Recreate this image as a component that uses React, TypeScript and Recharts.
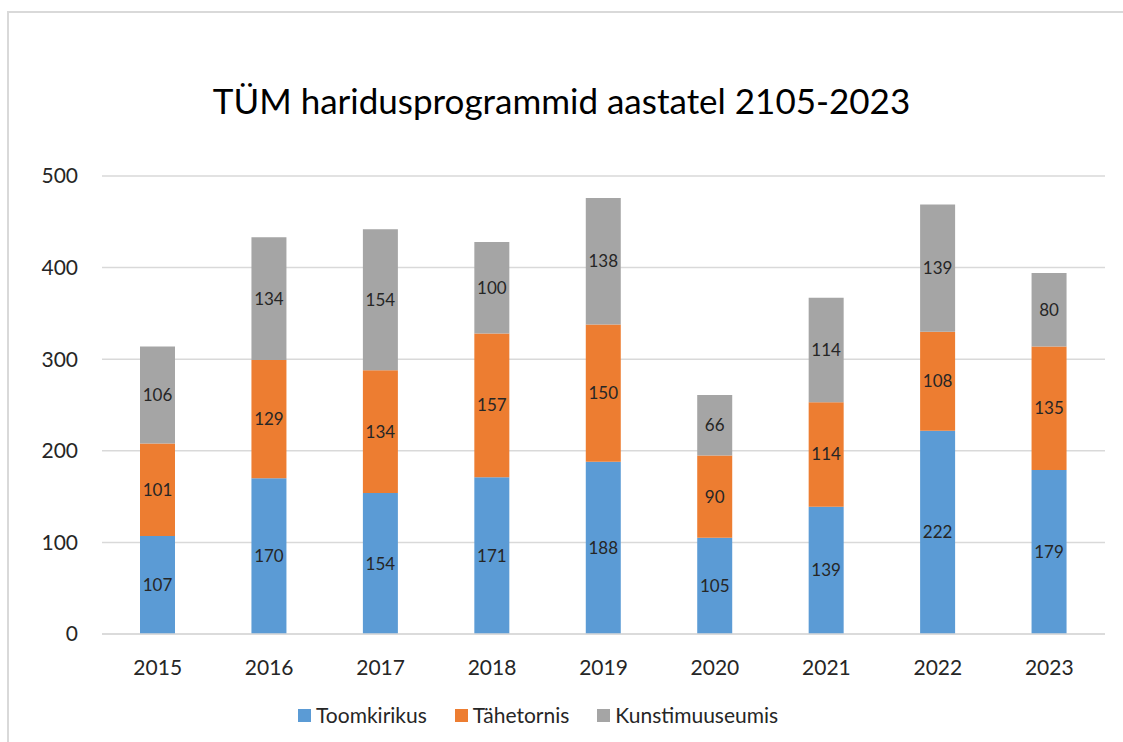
import React from 'react';
import { BarChart, Bar, XAxis, YAxis, CartesianGrid, Legend, LabelList } from 'recharts';

const years = ['2015', '2016', '2017', '2018', '2019', '2020', '2021', '2022', '2023'];
const toomkirikus = [107, 170, 154, 171, 188, 105, 139, 222, 179];
const tahetornis = [101, 129, 134, 157, 150, 90, 114, 108, 135];
const kunstimuuseumis = [106, 134, 154, 100, 138, 66, 114, 139, 80];
const yTicks = [0, 100, 200, 300, 400, 500];

const seriesNames = ['Toomkirikus', 'Tähetornis', 'Kunstimuuseumis'];
const seriesColors = ['#5B9BD5', '#ED7D31', '#A5A5A5'];

const data = years.map((y, i) => ({
  year: y,
  Toomkirikus: toomkirikus[i],
  'Tähetornis': tahetornis[i],
  Kunstimuuseumis: kunstimuuseumis[i],
}));

const FONT = 'Lato, "Open Sans", sans-serif';

const LegendContent = (props: any) => {
  return (
    <div style={{ display: 'flex', alignItems: 'center', fontFamily: FONT, fontSize: 21, color: '#262626', lineHeight: '26px' }}>
      {seriesNames.map((name, i) => (
        <div key={name} style={{ display: 'flex', alignItems: 'center', marginRight: 28 }}>
          <span style={{ display: 'inline-block', width: 13, height: 13, background: seriesColors[i], marginRight: 5 }} />
          <span>{name}</span>
        </div>
      ))}
    </div>
  );
};

export default function App() {
  return (
    <div style={{ position: 'absolute', left: 0, top: 0, width: 1123, height: 742, overflow: 'hidden', background: '#fff' }}>
      <div style={{ position: 'absolute', left: 7, top: 11, width: 1300, height: 900, border: '2px solid #D9D9D9', boxSizing: 'border-box' }} />
      <div style={{ position: 'absolute', left: 0, width: 1123, top: 78, textAlign: 'center', fontFamily: FONT, fontSize: 35, color: '#000', lineHeight: '44px' }}>
        TÜM haridusprogrammid aastatel 2105-2023
      </div>
      <div style={{ position: 'absolute', left: 0, top: 0 }}>
        <BarChart width={1123} height={742} data={data} margin={{ top: 176, right: 18, left: 0, bottom: 22 }}>
          <CartesianGrid vertical={false} stroke="#D9D9D9" strokeWidth={1.5} />
          <XAxis
            dataKey="year"
            height={60}
            axisLine={{ stroke: '#D9D9D9', strokeWidth: 1.5 }}
            tickLine={false}
            tickMargin={20}
            tick={{ fill: '#262626', fontSize: 21, fontFamily: FONT }}
          />
          <YAxis
            width={102}
            domain={[0, 500]}
            ticks={yTicks}
            axisLine={false}
            tickLine={false}
            tickMargin={18}
            tick={{ fill: '#262626', fontSize: 21, fontFamily: FONT }}
          />
          <Legend
            verticalAlign="bottom"
            content={<LegendContent />}
            wrapperStyle={{ left: 298, width: 600, bottom: 14 }}
          />
          {seriesNames.map((name, i) => (
            <Bar key={name} dataKey={name} stackId="a" fill={seriesColors[i]} barSize={35} isAnimationActive={false}>
              <LabelList dataKey={name} position="center" fill="#262626" fontSize={17} fontFamily={FONT} />
            </Bar>
          ))}
        </BarChart>
      </div>
    </div>
  );
}
